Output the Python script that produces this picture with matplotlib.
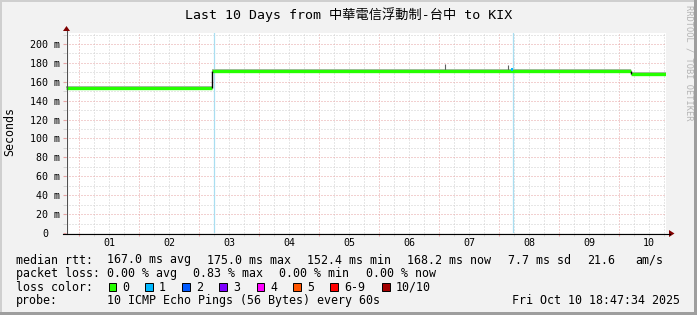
import matplotlib
matplotlib.use("Agg")
import matplotlib.pyplot as plt
from matplotlib.transforms import Affine2D, blended_transform_factory
from matplotlib.patches import Polygon, Rectangle
from matplotlib.lines import Line2D

plt.rcParams["font.family"] = ["DejaVu Sans Mono", "Noto Sans CJK TC"]
plt.rcParams["lines.scale_dashes"] = False

W, H = 697, 315

# --- data (x in days since Oct 01 00:00, y in ms) ---
day_labels = ["01", "02", "03", "04", "05", "06", "07", "08", "09", "10"]
x_start, x_end = -0.217, 9.783
y_top = 211.6

seg_start = [-0.217, 2.21, 9.20]
seg_end = [2.21, 9.20, 9.783]
seg_median = [153.2, 171.3, 168.3]
seg_smoke = [155.4, 173.4, 169.9]

spike_day = [6.10, 7.15]
spike_top = [178.5, 177.5]
loss_day = [7.21]
loss_value = [175.0]
vrule_day = [2.243, 7.228]

rtt_stats = [167.0, 175.0, 152.4, 168.2]
rtt_names = ["avg", "max", "min", "now"]
rtt_sd = 7.7
rtt_ams = 21.6
loss_stats = [0.00, 0.83, 0.00, 0.00]

loss_labels = ["0", "1", "2", "3", "4", "5", "6-9", "10/10"]
loss_colors = ["#26ff00", "#00b8ff", "#0059ff", "#7e00ff", "#ff00ff",
               "#ff5500", "#ff0000", "#a10000"]

fig = plt.figure(figsize=(W / 100, H / 100), dpi=100, facecolor="#f2f2f2")
# pixel coordinates, origin top-left
px = Affine2D().scale(1, -1).translate(0, H).scale(1 / W, 1 / H) + fig.transFigure

ax = fig.add_axes([66 / W, (H - 233) / H, 600 / W, 200 / H])
ax.set_facecolor("white")
ax.set_xlim(x_start, x_end)
ax.set_ylim(0, y_top)
for s in ax.spines.values():
    s.set_visible(False)

ax.set_xticks(range(0, 10))
ax.set_xticks([d / 4 for d in range(0, 40) if d % 4], minor=True)
ax.set_yticks(range(0, 201, 20))
ax.set_yticks(range(10, 211, 20), minor=True)
ax.grid(which="major", color="#e6a3a3", linestyle=(0, (0.72, 1.44)), lw=0.72)
ax.grid(which="minor", color="#cfcfcf", linestyle=(0, (0.72, 1.44)), lw=0.72)
ax.tick_params(which="major", length=2, color="#e6a3a3", labelleft=False, labelbottom=False)
ax.tick_params(which="minor", length=2, color="#cfcfcf")
ax.set_axisbelow(True)

for d in vrule_day:
    ax.axvline(d, color="#a9def0", lw=0.9, zorder=1)

for s, e, m, t in zip(seg_start, seg_end, seg_median, seg_smoke):
    ax.fill_between([s, e], [m, m], [t, t], color="#b4b4b4", lw=0, zorder=2)
ax.vlines(spike_day, seg_median[1], spike_top, colors="#606060", lw=0.8, zorder=3)
ax.hlines(seg_median, seg_start, seg_end, colors="#26ff00", lw=2.4, zorder=4)
ax.vlines(seg_start[1:], seg_median[:-1], seg_median[1:], colors="black", lw=1.0, zorder=5)
ax.vlines(loss_day, seg_median[1], loss_value, colors="#00b8ff", lw=1.4, zorder=5)

# tick labels
ytr = blended_transform_factory(px, ax.transData)
for v in range(0, 201, 20):
    lab = "0" if v == 0 else f"{v} m"
    x = 48.5 if v == 0 else 60.5
    ax.text(x, v, lab, transform=ytr, ha="right", va="center_baseline",
            fontsize=7.2, clip_on=False)
xtr = blended_transform_factory(ax.transData, px)
for i, lab in enumerate(day_labels):
    ax.text(i + 0.5, 246.5, lab, transform=xtr, ha="center", va="baseline",
            fontsize=7.2, clip_on=False)

# axes and arrows
fig.add_artist(Line2D([66.5, 66.5], [233.5, 31], transform=px, color="#505050", lw=0.8))
fig.add_artist(Line2D([63, 670], [233.5, 233.5], transform=px, color="black", lw=0.8))
fig.add_artist(Polygon([(63, 31), (70, 31), (66.5, 26)], closed=True, transform=px,
                       color="#800000", lw=0))
fig.add_artist(Polygon([(669, 230), (669, 237), (674.5, 233.5)], closed=True, transform=px,
                       color="#800000", lw=0))

# frame shading
fig.add_artist(Rectangle((0, 0), W, 2, transform=px, color="#cfcfcf", lw=0))
fig.add_artist(Rectangle((0, 0), 2, H, transform=px, color="#cfcfcf", lw=0))
fig.add_artist(Rectangle((694, 0), 3, H, transform=px, color="#9e9e9e", lw=0))
fig.add_artist(Rectangle((0, 312), W, 3, transform=px, color="#9e9e9e", lw=0))

# titles
fig.text(348.5, 15, "Last 10 Days from 中華電信浮動制-台中 to KIX", transform=px,
         ha="center", va="center", fontsize=9.5)
fig.text(10, 131, "Seconds", transform=px, rotation=90, ha="center", va="center",
         fontsize=8.4)
fig.text(689, 5, "RRDTOOL / TOBI OETIKER", transform=px, rotation=270, ha="center",
         va="top", fontsize=6.2, color="#b4b4b4")

# legend rows
fs = 8.4
row1 = [(16, "median rtt:")]
for x, v, n in zip([107, 207, 307, 407], rtt_stats, rtt_names):
    row1.append((x, f"{v:.1f} ms {n}"))
row1 += [(508, f"{rtt_sd:.1f} ms sd"), (587, f"{rtt_ams:.1f}"), (635, "am/s")]
for x, s in row1:
    fig.text(x, 263.5, s, transform=px, ha="left", va="baseline", fontsize=fs)

row2 = [(16, "packet loss:")]
for x, v, n in zip([107, 193, 279, 366], loss_stats, rtt_names):
    row2.append((x, f"{v:.2f} % {n}"))
for x, s in row2:
    fig.text(x, 277, s, transform=px, ha="left", va="baseline", fontsize=fs)

fig.text(16, 290.7, "loss color:", transform=px, ha="left", va="baseline", fontsize=fs)
box_x = [108.5, 145, 182, 219, 256.5, 293, 330, 382]
for bx, lab, c in zip(box_x, loss_labels, loss_colors):
    fig.add_artist(Rectangle((bx, 283), 7.5, 7.5, transform=px, facecolor=c,
                             edgecolor="black", lw=0.7))
    fig.text(bx + 14, 290.7, lab, transform=px, ha="left", va="baseline", fontsize=fs)

fig.text(16, 304.3, "probe:", transform=px, ha="left", va="baseline", fontsize=fs)
fig.text(107, 304.3, "10 ICMP Echo Pings (56 Bytes) every 60s", transform=px,
         ha="left", va="baseline", fontsize=fs)
fig.text(680, 304.3, "Fri Oct 10 18:47:34 2025", transform=px, ha="right",
         va="baseline", fontsize=fs)

fig.savefig("out.png", dpi=100, facecolor=fig.get_facecolor())
